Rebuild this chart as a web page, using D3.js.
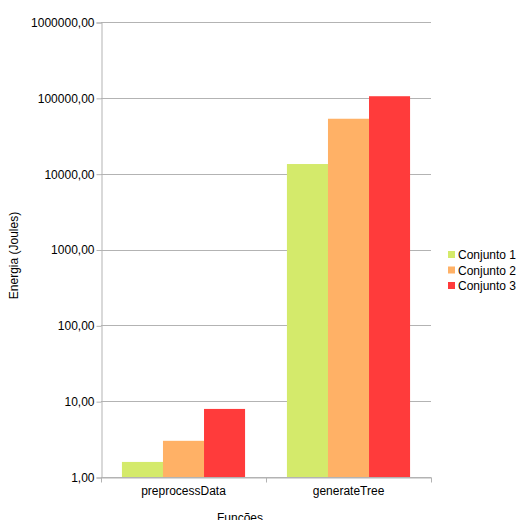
<!DOCTYPE html>
<html>
<head>
<meta charset="utf-8">
<script src="https://cdn.jsdelivr.net/npm/d3@7"></script>
<style>
  html, body { margin: 0; padding: 0; background: #fff; }
  svg { display: block; font-family: "Liberation Sans", Arial, sans-serif; }
</style>
</head>
<body>
<svg id="chart" width="519" height="520"></svg>
<script>
// Energy per function, one series per data set
const categories = ["preprocessData", "generateTree"];
const seriesNames = ["Conjunto 1", "Conjunto 2", "Conjunto 3"];
const conjunto1 = [1.58, 13400];
const conjunto2 = [3.0, 53000];
const conjunto3 = [7.9, 105000];
const seriesColors = ["#d4ea6b", "#ffb166", "#ff3b3b"];
const yTicks = [1, 10, 100, 1000, 10000, 100000, 1000000];

const seriesValues = [conjunto1, conjunto2, conjunto3];

(function draw() {
  const svg = d3.select("#chart");
  const plotLeft = 101, plotRight = 431, plotTop = 22, plotBottom = 477;

  const x = d3.scaleBand().domain(categories).range([plotLeft, plotRight]).paddingInner(0).paddingOuter(0);
  const inner = d3.scaleBand().domain(seriesNames).range([0, x.bandwidth()]).paddingInner(0).paddingOuter(0.51);
  const y = d3.scaleLog().domain([1, 1000000]).range([plotBottom, plotTop]);

  const fmt = v => d3.format(".2f")(v).replace(".", ",");

  // horizontal gridlines
  svg.append("g")
    .selectAll("line")
    .data(yTicks)
    .join("line")
    .attr("x1", plotLeft).attr("x2", plotRight)
    .attr("y1", d => Math.round(y(d)) + 0.5).attr("y2", d => Math.round(y(d)) + 0.5)
    .attr("stroke", "#b3b3b3").attr("stroke-width", 1);

  // bars
  categories.forEach((cat, ci) => {
    seriesNames.forEach((s, si) => {
      const v = seriesValues[si][ci];
      svg.append("rect")
        .attr("x", x(cat) + inner(s))
        .attr("y", y(v))
        .attr("width", inner.bandwidth())
        .attr("height", y(1) - y(v))
        .attr("fill", seriesColors[si]);
    });
  });

  // y axis
  const yAxis = d3.axisLeft(y).tickValues(yTicks).tickFormat(fmt).tickSize(5).tickPadding(2);
  const gy = svg.append("g").attr("transform", `translate(${plotLeft + 0.5},0.5)`).call(yAxis);
  gy.select(".domain").attr("stroke", "#b3b3b3");
  gy.selectAll(".tick line").attr("stroke", "#b3b3b3");
  gy.selectAll(".tick text").attr("fill", "#000").style("font-size", "12px")
    .style("font-family", "'Liberation Sans', Arial, sans-serif");

  // x axis with ticks at category boundaries
  const xAxis = d3.axisBottom(x).tickSize(0).tickPadding(9);
  const gx = svg.append("g").attr("transform", `translate(0,${plotBottom + 0.5})`).call(xAxis);
  gx.select(".domain").attr("stroke", "#b3b3b3");
  gx.selectAll(".tick text").attr("fill", "#000").style("font-size", "12px")
    .style("font-family", "'Liberation Sans', Arial, sans-serif");
  const boundaries = [plotLeft, x(categories[1]), plotRight];
  gx.selectAll("line.bound")
    .data(boundaries)
    .join("line")
    .attr("class", "bound")
    .attr("x1", d => Math.round(d) + 0.5).attr("x2", d => Math.round(d) + 0.5)
    .attr("y1", 0).attr("y2", 5)
    .attr("stroke", "#b3b3b3");

  // axis titles
  svg.append("text")
    .attr("transform", `translate(18,${(plotTop + plotBottom) / 2 + 6}) rotate(-90)`)
    .attr("text-anchor", "middle")
    .style("font-size", "12px")
    .text("Energia (Joules)");

  svg.append("text")
    .attr("x", 240).attr("y", 522)
    .attr("text-anchor", "middle")
    .style("font-size", "12px")
    .text("Funções");

  // legend
  const legend = svg.append("g").attr("transform", "translate(448,249)");
  seriesNames.forEach((s, i) => {
    const row = legend.append("g").attr("transform", `translate(0,${i * 15.5})`);
    row.append("rect").attr("width", 7).attr("height", 7).attr("x", 0).attr("y", 2).attr("fill", seriesColors[i]);
    row.append("text").attr("x", 10).attr("y", 10).style("font-size", "12px").text(s);
  });
})();
</script>
</body>
</html>
